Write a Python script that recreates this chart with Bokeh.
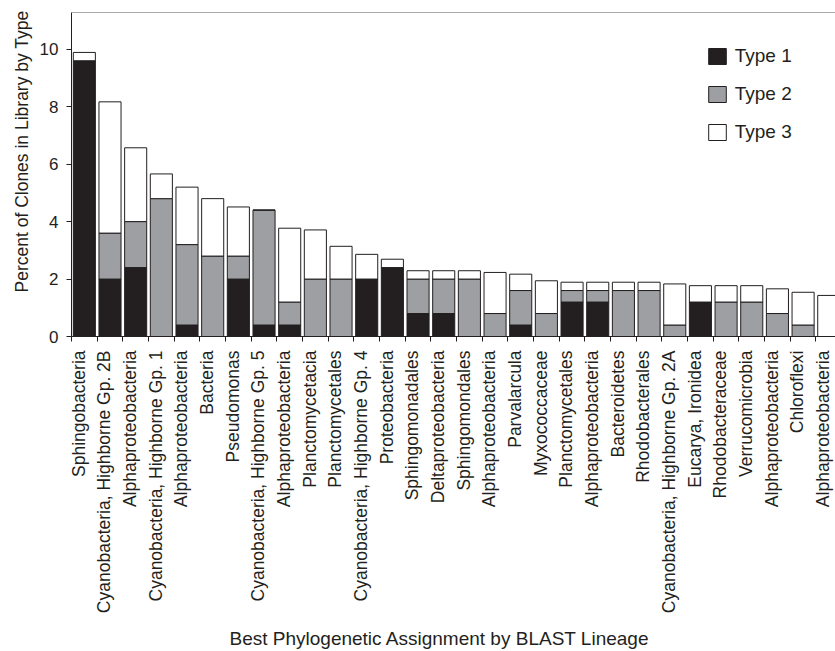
import math
from bokeh.plotting import figure
from bokeh.models import (Range1d, FixedTicker, Span, Title, Legend, LegendItem,
                          ColumnDataSource)
from bokeh.embed import file_html
from bokeh.resources import INLINE

categories = ["Sphingobacteria", "Cyanobacteria, Highborne Gp. 2B", "Alphaproteobacteria",
              "Cyanobacteria, Highborne Gp. 1", "Alphaproteobacteria", "Bacteria", "Pseudomonas",
              "Cyanobacteria, Highborne Gp. 5", "Alphaproteobacteria", "Planctomycetacia",
              "Planctomycetales", "Cyanobacteria, Highborne Gp. 4", "Proteobacteria",
              "Sphingomonadales", "Deltaproteobacteria", "Sphingomondales", "Alphaproteobacteria",
              "Parvalarcula", "Myxococcaceae", "Planctomycetales", "Alphaproteobacteria",
              "Bacteroidetes", "Rhodobacterales", "Cyanobacteria, Highborne Gp. 2A",
              "Eucarya, Ironidea", "Rhodobacteraceae", "Verrucomicrobia", "Alphaproteobacteria",
              "Chloroflexi", "Alphaproteobacteria"]

type1 = [9.6, 2.0, 2.4, 0, 0.4, 0, 2.0, 0.4, 0.4, 0, 0, 2.0, 2.4, 0.8, 0.8, 0, 0, 0.4, 0,
         1.2, 1.2, 0, 0, 0, 1.2, 0, 0, 0, 0, 0]
type2 = [0, 1.6, 1.6, 4.8, 2.8, 2.8, 0.8, 4.0, 0.8, 2.0, 2.0, 0, 0, 1.2, 1.2, 2.0, 0.8, 1.2,
         0.8, 0.4, 0.4, 1.6, 1.6, 0.4, 0, 1.2, 1.2, 0.8, 0.4, 0]
type3 = [0.29, 4.57, 2.57, 0.86, 2.0, 2.0, 1.71, 0, 2.57, 1.71, 1.14, 0.86, 0.29, 0.29, 0.29,
         0.29, 1.43, 0.57, 1.14, 0.29, 0.29, 0.29, 0.29, 1.43, 0.57, 0.57, 0.57, 0.86, 1.14, 1.43]

y_ticks = [0, 2, 4, 6, 8, 10]
series_names = ["Type 1", "Type 2", "Type 3"]
colors = ["#231f20", "#9d9fa2", "#ffffff"]

FONT = "Liberation Sans"
INK = "#231f20"

n = len(categories)
xpos = [i + 0.5 for i in range(n)]
label_pos = [i + 0.5 - 0.22 for i in range(n)]

src = ColumnDataSource(dict(x=xpos, t1=type1, t2=type2, t3=type3))

W, H = 835, 651
left, top, bottom = 71, 12, 315
frame_w = W - left
px_per_cat = 25.67
y_top = 11.28
p = figure(width=W, height=H, output_backend="svg", toolbar_location=None,
           x_range=Range1d(0, frame_w / px_per_cat), y_range=Range1d(0, y_top),
           min_border_left=left, min_border_right=0, min_border_top=top,
           min_border_bottom=bottom)
p.outline_line_color = None
p.xgrid.visible = False
p.ygrid.visible = False
p.background_fill_color = "white"
p.border_fill_color = "white"

rs = p.vbar_stack(["t1", "t2", "t3"], x="x", width=0.86, source=src,
                  fill_color=colors, line_color=INK, line_width=1)

# top border line
p.add_layout(Span(location=y_top, dimension="width", line_color="#555555", line_width=1))

# y axis
ya = p.yaxis[0]
ya.ticker = FixedTicker(ticks=y_ticks)
ya.axis_line_color = INK
ya.major_tick_line_color = INK
ya.major_tick_out = 5
ya.major_tick_in = 0
ya.minor_tick_line_color = None
ya.major_label_text_font = FONT
ya.major_label_text_font_size = "17px"
ya.major_label_text_color = INK
ya.major_label_standoff = 8

# x axis
xa = p.xaxis[0]
xa.ticker = FixedTicker(ticks=label_pos, minor_ticks=list(range(n + 1)))
xa.major_label_overrides = {lp: c for lp, c in zip(label_pos, categories)}
xa.axis_line_color = INK
xa.major_tick_line_color = None
xa.major_tick_out = 5
xa.major_tick_in = 0
xa.minor_tick_line_color = INK
xa.minor_tick_out = 5
xa.minor_tick_in = 0
xa.major_label_orientation = math.pi / 2
xa.major_label_text_font = FONT
xa.major_label_text_font_size = "17.5px"
xa.major_label_text_color = INK
xa.major_label_standoff = 9

# axis titles
p.add_layout(Title(text="Percent of Clones in Library by Type", align="left", offset=44,
                   standoff=10, text_font=FONT, text_font_size="17.5px",
                   text_font_style="normal", text_color=INK), "left")
# thin spacer between tick labels and the x title
p.add_layout(Title(text=" ", text_font_size="1px", standoff=6), "below")
p.add_layout(Title(text="Best Phylogenetic Assignment by BLAST Lineage", align="left",
                   offset=158, standoff=0, text_font=FONT, text_font_size="19px",
                   text_font_style="normal", text_color=INK), "below")

legend = Legend(items=[LegendItem(label=nm, renderers=[r]) for nm, r in zip(series_names, rs)],
                location=(634.7, 193), orientation="vertical",
                glyph_width=22, glyph_height=20, spacing=16, padding=0, margin=0,
                label_standoff=7, label_text_font=FONT, label_text_font_size="19px",
                label_text_color=INK, border_line_color=None, background_fill_alpha=0)
p.add_layout(legend)

open("out.html", "w").write(file_html(p, INLINE))
